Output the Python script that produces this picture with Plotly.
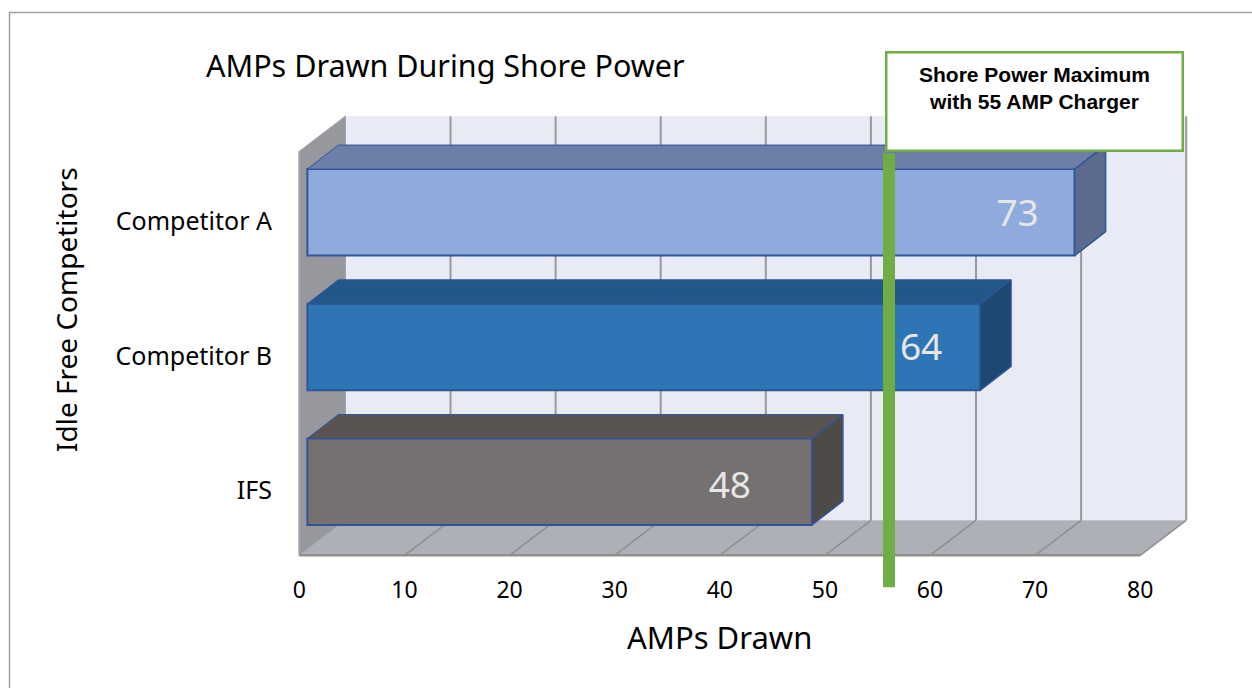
import plotly.graph_objects as go

# ---- data ----
categories = ["IFS", "Competitor B", "Competitor A"]
amps = [48, 64, 73]
x_ticks = [0, 10, 20, 30, 40, 50, 60, 70, 80]
shore_power_limit = 56.1
chart_title = "AMPs Drawn During Shore Power"
x_title = "AMPs Drawn"
y_title = "Idle Free Competitors"
callout = "<b>Shore Power Maximum<br>with 55 AMP Charger</b>"

front_colors = ["#767171", "#2E75B6", "#8FAADC"]
top_colors = ["#595351", "#22578A", "#6C7FA8"]
side_colors = ["#4E4A47", "#1D4872", "#5D6C8E"]

# ---- geometry: the plot area fills the page, the axes are scaled to pixels ----
W, H = 1252, 688
PX_X = 10.51        # pixels per AMP
PX_Y = 134.7        # pixels per category band
X0, Y0 = 299.4, 555.3   # pixel of the axis origin (front floor corner)
dx = lambda px: px / PX_X
dy = lambda px: px / PX_Y
n = len(categories)
xmax = x_ticks[-1]
DEPTH_X, DEPTH_Y = dx(46), dy(35)
BAR_X, BAR_Y = dx(8), dy(6.2)
BAR_DX, BAR_DY = dx(31), dy(24)
BAR_H = dy(86.5)
EDGE = "#2F5597"
label_shift_px = [82, 59, 57]   # label centre to the left of the bar end
label_drop_px = [-3, 0, 0]


def path(points):
    return "M" + " L".join(f"{a},{b}" for a, b in points) + " Z"


shapes = []
common = dict(xref="x", yref="y", layer="below")
# back wall
shapes.append(dict(type="path", path=path([(DEPTH_X, DEPTH_Y), (xmax + DEPTH_X, DEPTH_Y),
                                           (xmax + DEPTH_X, n + DEPTH_Y), (DEPTH_X, n + DEPTH_Y)]),
                   fillcolor="#E8EAF6", line=dict(width=0), **common))
# side wall
shapes.append(dict(type="path", path=path([(0, 0), (DEPTH_X, DEPTH_Y), (DEPTH_X, n + DEPTH_Y), (0, n)]),
                   fillcolor="#97979E", line=dict(color="#A0A0A4", width=1), **common))
# floor
shapes.append(dict(type="path", path=path([(0, 0), (xmax, 0), (xmax + DEPTH_X, DEPTH_Y), (DEPTH_X, DEPTH_Y)]),
                   fillcolor="#AEB0B8", line=dict(width=0), **common))
for t in x_ticks[1:]:
    shapes.append(dict(type="line", x0=t + DEPTH_X, x1=t + DEPTH_X, y0=DEPTH_Y, y1=n + DEPTH_Y,
                       line=dict(color="#999999", width=2), **common))
    shapes.append(dict(type="line", x0=t, x1=t + DEPTH_X, y0=0, y1=DEPTH_Y,
                       line=dict(color="#8F8F8F", width=1.5), **common))
shapes.append(dict(type="line", x0=0, x1=xmax, y0=0, y1=0, line=dict(color="#8F8F8F", width=2.5), **common))
shapes.append(dict(type="line", x0=0, x1=0, y0=0, y1=n, line=dict(color="#A0A0A4", width=2), **common))
# outer frame of the picture
shapes.append(dict(type="path", xref="paper", yref="paper", layer="below",
                   path=f"M{9.5 / W},0 L{9.5 / W},{1 - 12.5 / H} L1,{1 - 12.5 / H}",
                   line=dict(color="#A0A0A0", width=1.5)))

fig = go.Figure()
centers = [i + 0.5 + BAR_Y for i in range(n)]

fig.add_trace(go.Bar(y=centers, x=amps, base=BAR_X, width=BAR_H, orientation="h",
                     marker=dict(color=front_colors, line=dict(color=EDGE, width=2)),
                     showlegend=False, hoverinfo="skip"))

for i, v in enumerate(amps):
    lo, hi = centers[i] - BAR_H / 2, centers[i] + BAR_H / 2
    end = BAR_X + v
    fig.add_trace(go.Scatter(
        x=[BAR_X, end, end + BAR_DX, BAR_X + BAR_DX, BAR_X],
        y=[hi, hi, hi + BAR_DY, hi + BAR_DY, hi],
        mode="lines", fill="toself", fillcolor=top_colors[i],
        line=dict(color=EDGE, width=1), showlegend=False, hoverinfo="skip"))
    fig.add_trace(go.Scatter(
        x=[end, end + BAR_DX, end + BAR_DX, end, end],
        y=[lo, lo + BAR_DY, hi + BAR_DY, hi, lo],
        mode="lines", fill="toself", fillcolor=side_colors[i],
        line=dict(color=EDGE, width=1.5), showlegend=False, hoverinfo="skip"))

fig.add_trace(go.Scatter(
    x=[BAR_X + v - dx(s) for v, s in zip(amps, label_shift_px)],
    y=[c - dy(4) + dy(d) for c, d in zip(centers, label_drop_px)],
    text=[str(v) for v in amps], mode="text",
    textfont=dict(family="Noto Sans", size=37, color="#E6E6E6"),
    showlegend=False, hoverinfo="skip"))

# limit line
fig.add_trace(go.Scatter(x=[shore_power_limit, shore_power_limit], y=[-dy(32), n + dy(-2)],
                         mode="lines", line=dict(color="#70AD47", width=12),
                         showlegend=False, hoverinfo="skip"))

FONT = "Noto Sans"
annotations = [
    dict(text=callout, xref="paper", yref="paper", x=1034.5 / W, y=1 - 101.5 / H,
         xanchor="center", yanchor="middle", showarrow=False, align="center", valign="top",
         width=276, height=78, bgcolor="#FFFFFF", bordercolor="#70AD47", borderwidth=2.5, borderpad=9,
         font=dict(family="Liberation Sans", size=21, color="#000000")),
    dict(text=x_title, xref="paper", yref="paper", x=719.5 / W, y=1 - 637 / H,
         xanchor="center", yanchor="middle", showarrow=False,
         font=dict(family=FONT, size=31, color="#000000")),
    dict(text=y_title, xref="paper", yref="paper", x=66 / W, y=1 - 310 / H, textangle=-90,
         xanchor="center", yanchor="middle", showarrow=False,
         font=dict(family=FONT, size=28, color="#000000")),
]

fig.update_layout(
    width=W, height=H, margin=dict(l=0, r=0, t=0, b=0),
    paper_bgcolor="#FFFFFF", plot_bgcolor="rgba(0,0,0,0)",
    title=dict(text=chart_title, x=206 / W, xanchor="left", y=1 - 66 / H, yanchor="middle",
               xref="paper", yref="paper", font=dict(family=FONT, size=30.5, color="#000000")),
    shapes=shapes, annotations=annotations, showlegend=False,
    xaxis=dict(range=[-X0 / PX_X, (W - X0) / PX_X], domain=[0, 1], anchor="free", position=1 - 574 / H,
               tickmode="array", tickvals=x_ticks, ticktext=[str(t) for t in x_ticks],
               showgrid=False, zeroline=False, showline=False, ticks="",
               tickfont=dict(family=FONT, size=23, color="#000000")),
    yaxis=dict(range=[-(H - Y0) / PX_Y, Y0 / PX_Y], domain=[0, 1], anchor="free", position=272 / W,
               tickmode="array", tickvals=[i + 0.48 for i in range(n)], ticktext=categories,
               showgrid=False, zeroline=False, showline=False, ticks="",
               tickfont=dict(family=FONT, size=25, color="#000000")),
)
fig.write_html("out.html", config=dict(displayModeBar=False),
               post_script="document.body.style.margin='0';document.documentElement.style.overflow='hidden';")
